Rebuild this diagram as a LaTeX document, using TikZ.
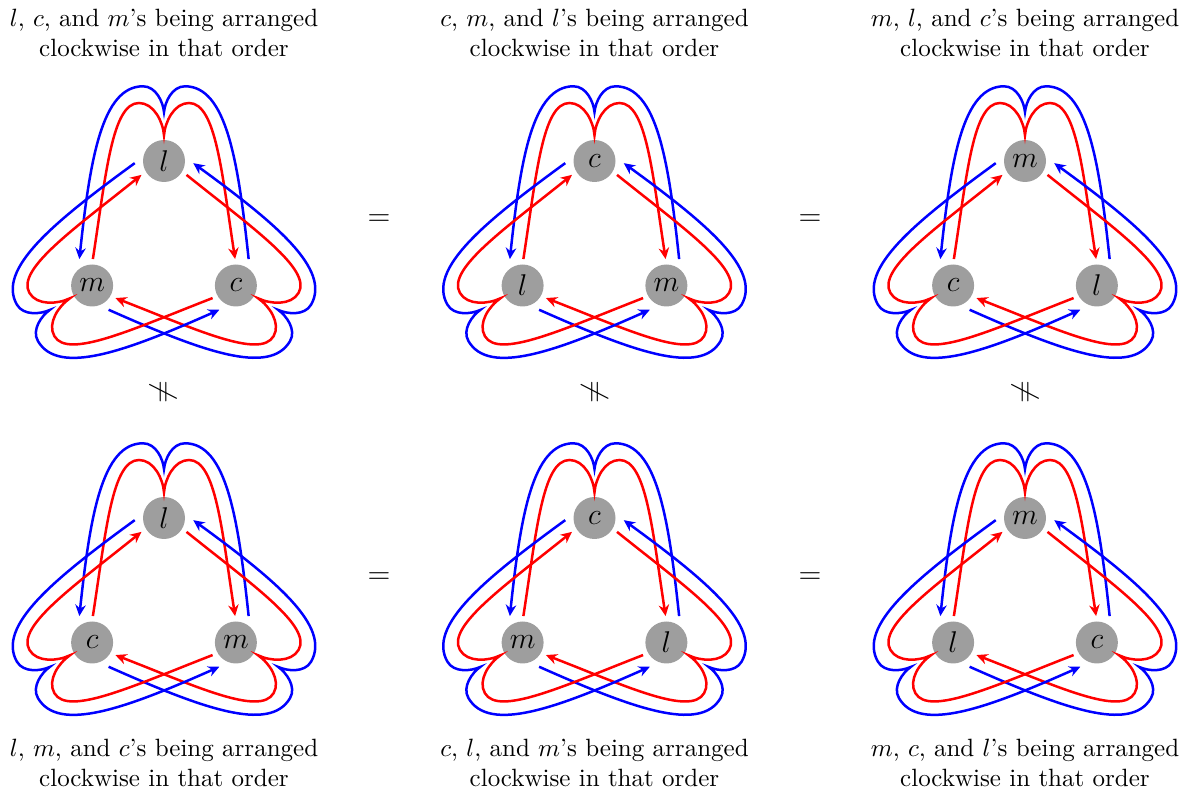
\documentclass[tikz,border=0pt]{standalone}
\usepackage{amsmath,amssymb}
\usepackage{tikz}
\usetikzlibrary{arrows.meta,calc}

\tikzset{
  vtx/.style={circle,fill=black!38,minimum size=16.8pt,inner sep=0pt,font=\large},
  redarc/.style={red,line width=1pt,-{Stealth[length=4.5pt,width=4.2pt]},shorten <=2pt,shorten >=2pt},
  bluearc/.style={blue,line width=1pt,-{Stealth[length=4.5pt,width=4.2pt]},shorten <=4pt,shorten >=4pt},
  heading/.style={align=center},
  rel/.style={font=\large}
}

% #1 name, #2 centre, #3 top, #4 left, #5 right
\newcommand{\triad}[5]{%
  \coordinate (#1) at (#2);
  \node[vtx] (#1t) at ($(#1)+(90:83)$) {$#3$};
  \node[vtx] (#1l) at ($(#1)+(210:83)$) {$#4$};
  \node[vtx] (#1r) at ($(#1)+(330:83)$) {$#5$};
  \foreach \a/\s/\e/\u/\p/\q in {0/l/r/90/50/130,-120/t/l/330/290/10,120/r/t/210/170/250}{
    \begin{scope}[shift={(#1)},rotate=\a]
      % red: clockwise, round the next vertex
      \draw[redarc] (#1\s.\u) .. controls (-58,70) and (-52,141) .. (-25,141)
        .. controls (-10,141) and (-1,122) .. (0,108.7)
        .. controls (1,122) and (10,141) .. (25,141)
        .. controls (52,141) and (58,70) .. (#1\e.\u);
      % blue: the other way round
      \draw[bluearc] (#1\e.\p) .. controls (74,85) and (62,157.7) .. (21,157.7)
        .. controls (8,157.7) and (1,142) .. (0,132)
        .. controls (-1,142) and (-8,157.7) .. (-21,157.7)
        .. controls (-62,157.7) and (-74,85) .. (#1\s.\q);
    \end{scope}
  }
}

\begin{document}
\begin{tikzpicture}[x=0.4pt,y=0.4pt]
\useasboundingbox (0,0) rectangle (1189,-798);

\triad{A}{164,-244}{l}{m}{c}
\triad{B}{594.5,-244}{c}{l}{m}
\triad{C}{1025,-244}{m}{c}{l}
\triad{D}{164,-601}{l}{c}{m}
\triad{E}{594.5,-601}{c}{m}{l}
\triad{F}{1025,-601}{m}{l}{c}

\node[heading] (hA) at (164,-32.5) {$l$, $c$, and $m$'s being arranged\\clockwise in that order};
\node[heading] (hB) at (594.5,-32.5) {$c$, $m$, and $l$'s being arranged\\clockwise in that order};
\node[heading] (hC) at (1025,-32.5) {$m$, $l$, and $c$'s being arranged\\clockwise in that order};
\node[heading] (hD) at (164,-762.5) {$l$, $m$, and $c$'s being arranged\\clockwise in that order};
\node[heading] (hE) at (594.5,-762.5) {$c$, $l$, and $m$'s being arranged\\clockwise in that order};
\node[heading] (hF) at (1025,-762.5) {$m$, $c$, and $l$'s being arranged\\clockwise in that order};

\node[rel] (eqAB) at (379,-220) {$=$};
\node[rel] (eqBC) at (810,-220) {$=$};
\node[rel] (eqDE) at (379,-578) {$=$};
\node[rel] (eqEF) at (810,-578) {$=$};

\node[rel,rotate=90] (neAD) at (163,-392) {$\neq$};
\node[rel,rotate=90] (neBE) at (594.5,-392) {$\neq$};
\node[rel,rotate=90] (neCF) at (1025,-392) {$\neq$};
\end{tikzpicture}
\end{document}
